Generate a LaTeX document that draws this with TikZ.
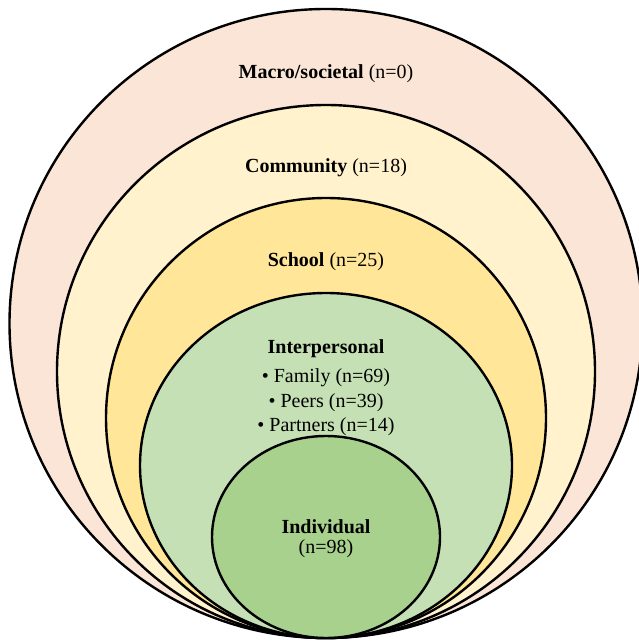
\documentclass[tikz,border=0pt]{standalone}
\usepackage{fontspec}
\setmainfont{Liberation Serif}
\usetikzlibrary{shapes.geometric}

\definecolor{macrofill}{HTML}{FBE5D6}
\definecolor{communityfill}{HTML}{FFF2CC}
\definecolor{schoolfill}{HTML}{FFE699}
\definecolor{interfill}{HTML}{C5E0B4}
\definecolor{indivfill}{HTML}{A9D18E}

\begin{document}
\begin{tikzpicture}[x=0.5pt,y=-0.5pt,
    ring/.style={ellipse, draw=black, line width=1.2pt, inner sep=0pt},
    lbl/.style={anchor=base, inner sep=0pt, font=\fontsize{10}{12}\selectfont}]
    \useasboundingbox (0,0) rectangle (638,641);
    % Rings
    \node[ring, fill=macrofill, minimum width=316.5pt, minimum height=314.5pt] (macro) at (326,323.5) {}; %
    \node[ring, fill=communityfill, minimum width=269pt, minimum height=266.5pt] (community) at (326,371.5) {}; %
    \node[ring, fill=schoolfill, minimum width=220pt, minimum height=220pt] (school) at (326,418) {}; %
    \node[ring, fill=interfill, minimum width=186pt, minimum height=172.5pt] (inter) at (326,465.5) {}; %
    \node[ring, fill=indivfill, minimum width=114pt, minimum height=101pt] (indiv) at (326,537) {}; %
    % Labels
    \node[lbl] (macroL) at (326,79) {\textbf{Macro/societal} (n=0)}; %
    \node[lbl] (communityL) at (326,173) {\textbf{Community} (n=18)}; %
    \node[lbl] (schoolL) at (326,267) {\textbf{School} (n=25)}; %
    \node[lbl] (interL) at (326,353) {\textbf{Interpersonal}}; %
    \node[lbl] (family) at (326,382) {\textbullet\ Family (n=69)}; %
    \node[lbl] (peers) at (326,407) {\textbullet\ Peers (n=39)}; %
    \node[lbl] (partners) at (326,431) {\textbullet\ Partners (n=14)}; %
    \node[lbl] (indivL) at (326,533) {\textbf{Individual}}; %
    \node[lbl] (indivN) at (326,553) {(n=98)}; %
\end{tikzpicture}
\end{document}
